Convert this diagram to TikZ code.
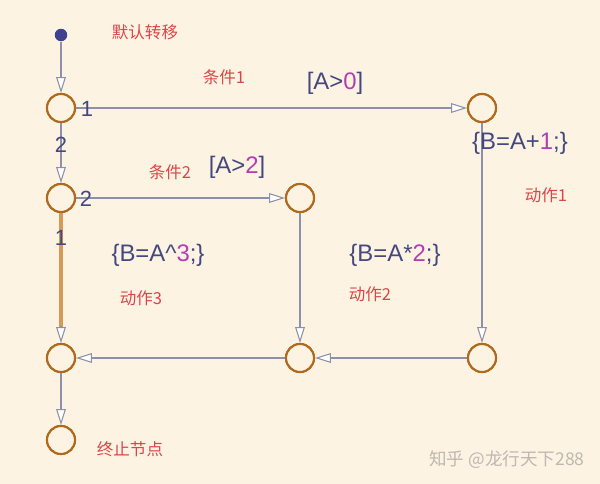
\documentclass[tikz,border=0pt]{standalone}
\usepackage{fontspec}
\setmainfont{Liberation Sans}
\newfontfamily\cjk{Noto Sans CJK SC}
\usetikzlibrary{arrows.meta}
\definecolor{bg}{HTML}{FDF3E2}
\definecolor{jring}{HTML}{B06A1E}
\definecolor{wire}{HTML}{8C90A8}
\definecolor{lbl}{HTML}{D9464A}
\definecolor{txt}{HTML}{454880}
\definecolor{num}{HTML}{B43CB4}
\definecolor{hilite}{HTML}{D49A5A}
\definecolor{wm}{HTML}{BDB8B0}
\begin{document}
\begin{tikzpicture}[x=0.02cm,y=-0.02cm,
  junc/.style={circle,draw=jring,line width=1.2pt,minimum size=0.56cm,inner sep=0pt,fill=bg},
  startdot/.style={circle,fill=txt!90!blue,minimum size=0.25cm,inner sep=0pt},
  trans/.style={draw=wire,line width=0.6pt,-{Triangle[open,length=9pt,width=5.5pt,fill=white]}},
  cn/.style={font=\cjk\fontsize{9.4}{11}\selectfont,text=lbl,inner sep=0pt},
  act/.style={font=\fontsize{13.6}{15}\selectfont,text=txt,inner sep=0pt},
  idx/.style={font=\fontsize{12.5}{14}\selectfont,text=txt,inner sep=0pt}]
\fill[bg] (0,0) rectangle (600,484);
\useasboundingbox (0,0) rectangle (600,484);
% nodes
\node[startdot] (s) at (61,35) {};
\node[junc] (a1) at (61,108) {};
\node[junc] (a2) at (61,198) {};
\node[junc] (tr) at (482,108) {};
\node[junc] (m) at (300,198) {};
\node[junc] (bl) at (61,358) {};
\node[junc] (bm) at (300,358) {};
\node[junc] (br) at (482,358) {};
\node[junc] (e) at (61,440) {};
% highlighted transition
\draw[hilite,line width=2.8pt] (a2.south) -- ([yshift=9pt]bl.north);
\draw[trans] ([yshift=9.5pt]bl.north) -- (bl.north);
% connectors
\draw[trans] (s) -- (a1.north);
\draw[trans] (a1.south) -- (a2.north);
\draw[trans] (a1.east) -- (tr.west);
\draw[trans] (tr.south) -- (br.north);
\draw[trans] (a2.east) -- (m.west);
\draw[trans] (m.south) -- (bm.north);
\draw[trans] (br.west) -- (bm.east);
\draw[trans] (bm.west) -- (bl.east);
\draw[trans] (bl.south) -- (e.north);
% redraw rings on top
\foreach \n in {a1,a2,tr,m,bl,bm,br,e} \node[junc] at (\n) {};
% labels
\node[cn] (l0) at (145,32) {默认转移};
\node[cn] (l1) at (224,77) {条件1};
\node[act] (g1) at (335,83) {[A>\textcolor{num}{0}]};
\node[idx] (n1) at (87,109) {1};
\node[idx] (n2) at (61,145) {2};
\node[act] (c1) at (520,143) {\{B=A+\textcolor{num}{1};\}};
\node[cn] (l2) at (546,195) {动作1};
\node[cn] (l3) at (170,172) {条件2};
\node[act] (g2) at (237,167) {[A>\textcolor{num}{2}]};
\node[idx] (n3) at (86,199) {2};
\node[idx] (n4) at (61,238) {1};
\node[act] (c3) at (158,255) {\{B=A\^{}\textcolor{num}{3};\}};
\node[cn] (l4) at (141,298) {动作3};
\node[act] (c2) at (395,255) {\{B=A*\textcolor{num}{2};\}};
\node[cn] (l5) at (370,294) {动作2};
\node[cn] (l6) at (130,449) {终止节点};
\node[font=\cjk\fontsize{10}{11}\selectfont,text=wm,inner sep=0pt] (w) at (507,460) {知乎 @龙行天下288};
\end{tikzpicture}
\end{document}
